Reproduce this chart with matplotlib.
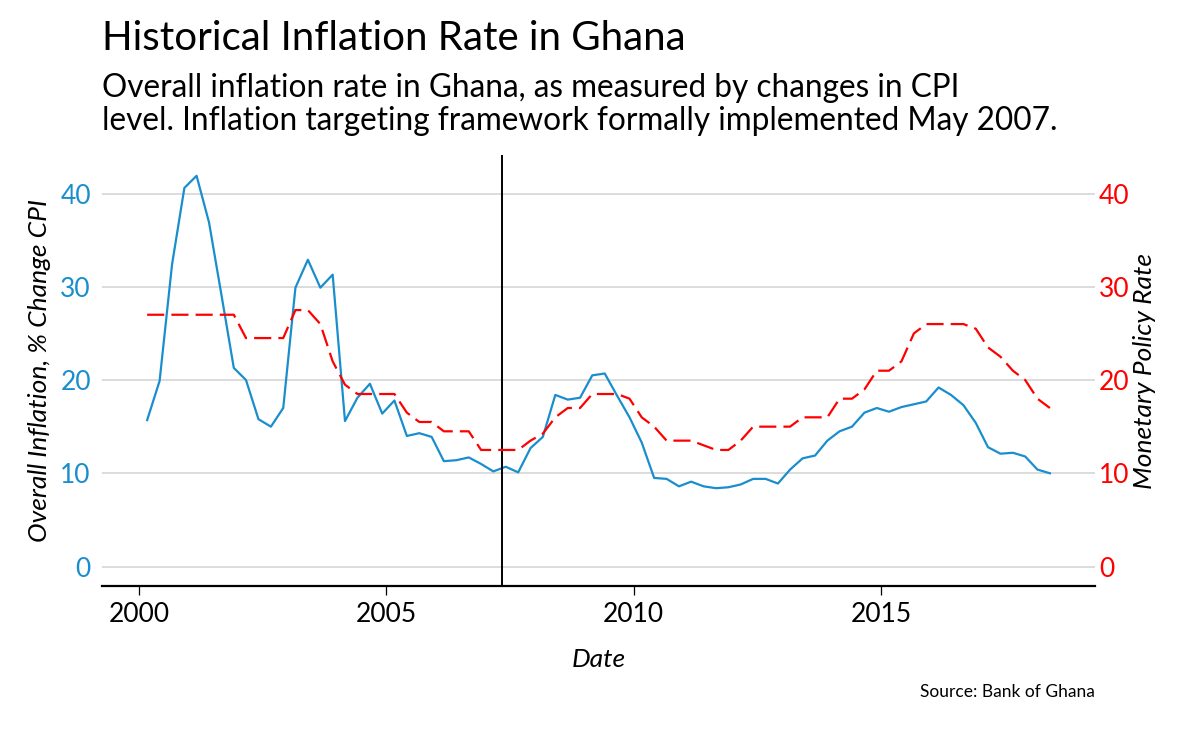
import numpy as np
import pandas as pd
import matplotlib
matplotlib.use("Agg")
from matplotlib import pyplot as plt
import matplotlib.dates as mdates

plt.rcParams['font.family'] = ['Lato', 'DejaVu Sans']

# quarterly observations, Mar 2000 .. Jun 2018
dates = pd.date_range("2000-03-01", periods=74, freq="3MS")

inflation = [15.7, 19.9, 32.4, 40.6, 41.9, 36.9, 29.1, 21.3, 20.0, 15.8,
             15.0, 17.0, 29.9, 32.9, 29.9, 31.3, 15.6, 18.1, 19.6, 16.4,
             17.8, 14.0, 14.3, 13.9, 11.3, 11.4, 11.7, 11.0, 10.2, 10.7,
             10.1, 12.7, 13.9, 18.4, 17.9, 18.1, 20.5, 20.7, 18.3, 16.0,
             13.3, 9.5, 9.4, 8.6, 9.1, 8.6, 8.4, 8.5, 8.8, 9.4,
             9.4, 8.9, 10.4, 11.6, 11.9, 13.5, 14.5, 15.0, 16.5, 17.0,
             16.6, 17.1, 17.4, 17.7, 19.2, 18.4, 17.3, 15.4, 12.8, 12.1,
             12.2, 11.8, 10.4, 10.0]

policy_rate = [27.0, 27.0, 27.0, 27.0, 27.0, 27.0, 27.0, 27.0, 24.5, 24.5,
               24.5, 24.5, 27.5, 27.5, 26.0, 22.0, 19.5, 18.5, 18.5, 18.5,
               18.5, 16.5, 15.5, 15.5, 14.5, 14.5, 14.5, 12.5, 12.5, 12.5,
               12.5, 13.5, 14.25, 16.0, 17.0, 17.0, 18.5, 18.5, 18.5, 18.0,
               16.0, 15.0, 13.5, 13.5, 13.5, 13.0, 12.5, 12.5, 13.5, 15.0,
               15.0, 15.0, 15.0, 16.0, 16.0, 16.0, 18.0, 18.0, 19.0, 21.0,
               21.0, 22.0, 25.0, 26.0, 26.0, 26.0, 26.0, 25.5, 23.5, 22.5,
               21.0, 20.0, 18.0, 17.0]

yticks = [0, 10, 20, 30, 40]
xtick_years = [2000, 2005, 2010, 2015]
targeting_start = pd.Timestamp("2007-05-01")

blue = "#1a8ecd"
red = "#ff0000"

fig = plt.figure(figsize=(12, 7.29), dpi=100)
ax = fig.add_axes([0.085, 0.196, 0.8275, 0.591])
ax2 = ax.twinx()

ax.plot(dates, inflation, color=blue, lw=1.6, zorder=3)
ax2.plot(dates, policy_rate, color=red, lw=1.6, dashes=(7.7, 3.2), zorder=3)
ax.axvline(targeting_start, color="black", lw=1.4, zorder=4)

ax.margins(x=0.05)
for a in (ax, ax2):
    a.set_ylim(-2.1, 44.1)
    a.set_yticks(yticks)
    for s in a.spines.values():
        s.set_visible(False)
ax.spines['bottom'].set_visible(True)
ax.spines['bottom'].set_linewidth(1.6)

ax.set_xticks([pd.Timestamp(f"{y}-01-01") for y in xtick_years])
ax.xaxis.set_major_formatter(mdates.DateFormatter("%Y"))
ax.tick_params(axis='x', length=6.5, width=0.9, pad=5, labelsize=19, color="black")
ax.tick_params(axis='y', length=0, pad=8, labelsize=19, labelcolor=blue)
ax2.tick_params(axis='y', length=0, pad=3, labelsize=19, labelcolor=red)

ax.grid(axis='y', color="#d9d9d9", lw=1.3, zorder=0)
ax.set_axisbelow(True)

ax.set_xlabel("Date", fontsize=19, style="italic", labelpad=15)
ax.set_ylabel("Overall Inflation, % Change CPI", fontsize=19, style="italic", labelpad=7)
ax2.set_ylabel("Monetary Policy Rate", fontsize=19, style="italic", labelpad=2, rotation=90)

fig.text(0.085, 0.931, "Historical Inflation Rate in Ghana", fontsize=29, va="baseline")
fig.text(0.085, 0.8665, "Overall inflation rate in Ghana, as measured by changes in CPI",
         fontsize=22.7, va="baseline")
fig.text(0.085, 0.822, "level. Inflation targeting framework formally implemented May 2007.",
         fontsize=22.7, va="baseline")
fig.text(0.9125, 0.044, "Source: Bank of Ghana", fontsize=12.5, ha="right", va="baseline")

fig.savefig("out.png", dpi=100)
